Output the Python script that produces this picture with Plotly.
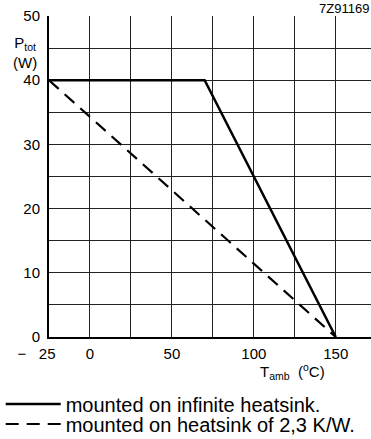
import plotly.graph_objects as go

# Data
t_infinite = [-25, 70, 150]
p_infinite = [40, 40, 0]
t_heatsink = [-25, 150]
p_heatsink = [40, 0]

x_ticks = [-25, 0, 50, 100, 150]
x_labels = ["\u2212\u00a0\u00a0\u00a025" + "\u00a0" * 6, "0", "50", "100", "150"]
x_minor = [25, 75, 125]
y_ticks = [0, 10, 20, 30, 40, 50]
y_labels = ["0", "10", "20", "30", "40", "50"]
y_minor = [5, 15, 25, 35, 45]

FONT = "Liberation Sans, Arial, sans-serif"

fig = go.Figure()
fig.add_trace(go.Scatter(
    x=t_infinite, y=p_infinite, mode="lines",
    line=dict(color="black", width=2.5),
    name="mounted on infinite heatsink.", legend="legend",
))
fig.add_trace(go.Scatter(
    x=t_heatsink, y=p_heatsink, mode="lines",
    line=dict(color="black", width=2.2, dash="13px,8px"),
    name="mounted on heatsink of 2,3 K/W.", legend="legend2",
))

leg_common = dict(
    xanchor="left", yanchor="middle",
    font=dict(size=20, family=FONT, color="black"),
    bgcolor="rgba(0,0,0,0)", itemwidth=55,
)

grid_style = dict(showgrid=True, gridcolor="#222", gridwidth=1)

fig.update_layout(
    width=371, height=439,
    margin=dict(l=49, r=0, t=16, b=102, autoexpand=False),
    plot_bgcolor="white", paper_bgcolor="white",
    font=dict(family=FONT, size=15, color="black"),
    showlegend=True,
    legend=dict(x=-0.15, y=(337 - 404) / 321, **leg_common),
    legend2=dict(x=-0.15, y=(337 - 424) / 321, **leg_common),
    xaxis=dict(
        range=[-25, 171.5], tickmode="array", tickvals=x_ticks, ticktext=x_labels,
        minor=dict(tickmode="array", tickvals=x_minor, ticks="", **grid_style),
        zeroline=False, showline=True, linecolor="black", linewidth=2, ticks="",
        tickfont=dict(size=15), ticklabelstandoff=2, fixedrange=True, **grid_style,
    ),
    yaxis=dict(
        range=[0, 50], tickmode="array", tickvals=y_ticks, ticktext=y_labels,
        minor=dict(tickmode="array", tickvals=y_minor, ticks="", **grid_style),
        zeroline=False, showline=True, linecolor="black", linewidth=2, ticks="",
        tickfont=dict(size=15), ticklabelstandoff=4, fixedrange=True, **grid_style,
    ),
    annotations=[
        dict(text="7Z91169", xref="paper", yref="paper", x=1, y=(337 - 8) / 321,
             xanchor="right", yanchor="middle", showarrow=False,
             font=dict(size=13, family=FONT)),
        dict(text="P<sub>tot</sub><br>(W)", xref="paper", yref="paper",
             x=-0.075, y=(337 - 52) / 321, xanchor="center", yanchor="middle",
             showarrow=False, align="center", font=dict(size=15, family=FONT)),
        dict(text="T<sub>amb</sub>  (<sup>o</sup>C)", xref="paper", yref="paper",
             x=(292 - 49) / 322, y=(337 - 372) / 321, xanchor="center", yanchor="middle",
             showarrow=False, font=dict(size=15, family=FONT)),
    ],
)

fig.write_html("out.html", config={"displayModeBar": False},
               post_script="document.body.style.margin='0px';")
